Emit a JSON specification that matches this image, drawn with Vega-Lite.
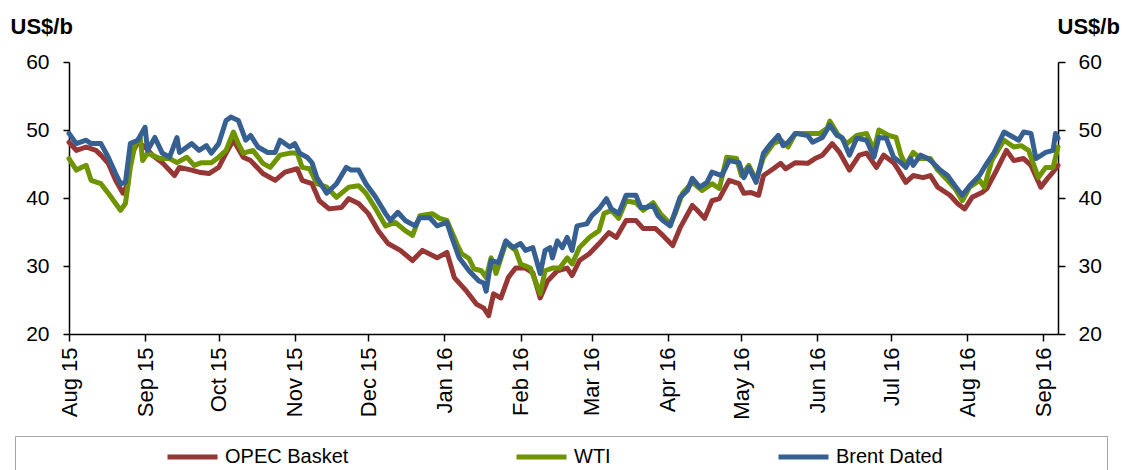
{
  "$schema": "https://vega.github.io/schema/vega-lite/v6.json",
  "width": 989,
  "height": 272,
  "autosize": {"type": "none"},
  "padding": {"left": 69, "top": 62, "right": 68, "bottom": 136},
  "background": "white",
  "config": {
    "font": "Liberation Sans",
    "view": {"stroke": null},
    "axis": {"domainColor": "black", "domainWidth": 1.5, "tickColor": "black", "tickWidth": 1.5, "labelColor": "black", "labelFontSize": 21, "grid": false, "titleColor": "black"}
  },
  "data": {"values": [
    {"date":"2015-08-01","series":"OPEC Basket","price":48.2},{"date":"2015-08-04","series":"OPEC Basket","price":47.0},{"date":"2015-08-08","series":"OPEC Basket","price":47.5},{"date":"2015-08-12","series":"OPEC Basket","price":47.0},{"date":"2015-08-14","series":"OPEC Basket","price":46.3},{"date":"2015-08-17","series":"OPEC Basket","price":45.1},{"date":"2015-08-20","series":"OPEC Basket","price":42.6},{"date":"2015-08-23","series":"OPEC Basket","price":40.7},{"date":"2015-08-25","series":"OPEC Basket","price":42.1},{"date":"2015-08-26","series":"OPEC Basket","price":46.0},{"date":"2015-08-29","series":"OPEC Basket","price":48.2},{"date":"2015-09-01","series":"OPEC Basket","price":47.5},{"date":"2015-09-04","series":"OPEC Basket","price":46.3},{"date":"2015-09-08","series":"OPEC Basket","price":45.2},{"date":"2015-09-13","series":"OPEC Basket","price":43.3},{"date":"2015-09-15","series":"OPEC Basket","price":44.5},{"date":"2015-09-20","series":"OPEC Basket","price":44.1},{"date":"2015-09-23","series":"OPEC Basket","price":43.8},{"date":"2015-09-27","series":"OPEC Basket","price":43.6},{"date":"2015-10-01","series":"OPEC Basket","price":44.5},{"date":"2015-10-04","series":"OPEC Basket","price":46.6},{"date":"2015-10-07","series":"OPEC Basket","price":48.5},{"date":"2015-10-11","series":"OPEC Basket","price":46.0},{"date":"2015-10-14","series":"OPEC Basket","price":45.5},{"date":"2015-10-19","series":"OPEC Basket","price":43.6},{"date":"2015-10-24","series":"OPEC Basket","price":42.6},{"date":"2015-10-28","series":"OPEC Basket","price":43.8},{"date":"2015-11-02","series":"OPEC Basket","price":44.3},{"date":"2015-11-04","series":"OPEC Basket","price":42.6},{"date":"2015-11-08","series":"OPEC Basket","price":42.1},{"date":"2015-11-11","series":"OPEC Basket","price":39.6},{"date":"2015-11-15","series":"OPEC Basket","price":38.4},{"date":"2015-11-20","series":"OPEC Basket","price":38.6},{"date":"2015-11-23","series":"OPEC Basket","price":39.9},{"date":"2015-11-27","series":"OPEC Basket","price":39.2},{"date":"2015-12-01","series":"OPEC Basket","price":37.7},{"date":"2015-12-05","series":"OPEC Basket","price":35.2},{"date":"2015-12-09","series":"OPEC Basket","price":33.3},{"date":"2015-12-14","series":"OPEC Basket","price":32.3},{"date":"2015-12-19","series":"OPEC Basket","price":30.8},{"date":"2015-12-23","series":"OPEC Basket","price":32.3},{"date":"2015-12-29","series":"OPEC Basket","price":31.2},{"date":"2016-01-02","series":"OPEC Basket","price":32.0},{"date":"2016-01-05","series":"OPEC Basket","price":28.3},{"date":"2016-01-10","series":"OPEC Basket","price":26.3},{"date":"2016-01-14","series":"OPEC Basket","price":24.4},{"date":"2016-01-17","series":"OPEC Basket","price":23.8},{"date":"2016-01-19","series":"OPEC Basket","price":22.7},{"date":"2016-01-21","series":"OPEC Basket","price":25.9},{"date":"2016-01-24","series":"OPEC Basket","price":25.3},{"date":"2016-01-27","series":"OPEC Basket","price":28.3},{"date":"2016-01-30","series":"OPEC Basket","price":29.7},{"date":"2016-02-03","series":"OPEC Basket","price":29.7},{"date":"2016-02-06","series":"OPEC Basket","price":29.0},{"date":"2016-02-09","series":"OPEC Basket","price":25.3},{"date":"2016-02-12","series":"OPEC Basket","price":27.8},{"date":"2016-02-16","series":"OPEC Basket","price":29.3},{"date":"2016-02-20","series":"OPEC Basket","price":29.7},{"date":"2016-02-22","series":"OPEC Basket","price":28.6},{"date":"2016-02-25","series":"OPEC Basket","price":30.8},{"date":"2016-02-29","series":"OPEC Basket","price":31.8},{"date":"2016-03-04","series":"OPEC Basket","price":33.3},{"date":"2016-03-08","series":"OPEC Basket","price":34.9},{"date":"2016-03-11","series":"OPEC Basket","price":34.2},{"date":"2016-03-15","series":"OPEC Basket","price":36.7},{"date":"2016-03-19","series":"OPEC Basket","price":36.7},{"date":"2016-03-22","series":"OPEC Basket","price":35.5},{"date":"2016-03-27","series":"OPEC Basket","price":35.5},{"date":"2016-03-30","series":"OPEC Basket","price":34.5},{"date":"2016-04-03","series":"OPEC Basket","price":33.0},{"date":"2016-04-06","series":"OPEC Basket","price":35.6},{"date":"2016-04-11","series":"OPEC Basket","price":38.9},{"date":"2016-04-13","series":"OPEC Basket","price":38.2},{"date":"2016-04-16","series":"OPEC Basket","price":37.0},{"date":"2016-04-19","series":"OPEC Basket","price":39.6},{"date":"2016-04-22","series":"OPEC Basket","price":39.9},{"date":"2016-04-26","series":"OPEC Basket","price":42.6},{"date":"2016-04-30","series":"OPEC Basket","price":42.1},{"date":"2016-05-02","series":"OPEC Basket","price":40.7},{"date":"2016-05-05","series":"OPEC Basket","price":40.8},{"date":"2016-05-08","series":"OPEC Basket","price":40.4},{"date":"2016-05-10","series":"OPEC Basket","price":43.3},{"date":"2016-05-14","series":"OPEC Basket","price":44.3},{"date":"2016-05-17","series":"OPEC Basket","price":45.1},{"date":"2016-05-19","series":"OPEC Basket","price":44.3},{"date":"2016-05-23","series":"OPEC Basket","price":45.2},{"date":"2016-05-28","series":"OPEC Basket","price":45.1},{"date":"2016-05-31","series":"OPEC Basket","price":45.8},{"date":"2016-06-03","series":"OPEC Basket","price":46.3},{"date":"2016-06-07","series":"OPEC Basket","price":48.0},{"date":"2016-06-10","series":"OPEC Basket","price":46.7},{"date":"2016-06-14","series":"OPEC Basket","price":44.1},{"date":"2016-06-18","series":"OPEC Basket","price":46.3},{"date":"2016-06-21","series":"OPEC Basket","price":46.6},{"date":"2016-06-25","series":"OPEC Basket","price":44.5},{"date":"2016-06-28","series":"OPEC Basket","price":46.3},{"date":"2016-07-02","series":"OPEC Basket","price":45.2},{"date":"2016-07-04","series":"OPEC Basket","price":44.1},{"date":"2016-07-07","series":"OPEC Basket","price":42.3},{"date":"2016-07-10","series":"OPEC Basket","price":43.3},{"date":"2016-07-14","series":"OPEC Basket","price":43.0},{"date":"2016-07-17","series":"OPEC Basket","price":43.3},{"date":"2016-07-20","series":"OPEC Basket","price":41.6},{"date":"2016-07-25","series":"OPEC Basket","price":40.4},{"date":"2016-07-28","series":"OPEC Basket","price":39.2},{"date":"2016-07-31","series":"OPEC Basket","price":38.4},{"date":"2016-08-03","series":"OPEC Basket","price":40.1},{"date":"2016-08-07","series":"OPEC Basket","price":40.8},{"date":"2016-08-09","series":"OPEC Basket","price":41.4},{"date":"2016-08-13","series":"OPEC Basket","price":44.1},{"date":"2016-08-17","series":"OPEC Basket","price":47.0},{"date":"2016-08-20","series":"OPEC Basket","price":45.5},{"date":"2016-08-24","series":"OPEC Basket","price":45.8},{"date":"2016-08-27","series":"OPEC Basket","price":44.8},{"date":"2016-08-31","series":"OPEC Basket","price":41.6},{"date":"2016-09-03","series":"OPEC Basket","price":43.0},{"date":"2016-09-05","series":"OPEC Basket","price":43.8},{"date":"2016-09-07","series":"OPEC Basket","price":44.8},
    {"date":"2015-08-01","series":"WTI","price":45.8},{"date":"2015-08-04","series":"WTI","price":44.1},{"date":"2015-08-08","series":"WTI","price":44.8},{"date":"2015-08-10","series":"WTI","price":42.6},{"date":"2015-08-14","series":"WTI","price":42.1},{"date":"2015-08-17","series":"WTI","price":40.7},{"date":"2015-08-20","series":"WTI","price":39.2},{"date":"2015-08-22","series":"WTI","price":38.2},{"date":"2015-08-24","series":"WTI","price":39.2},{"date":"2015-08-26","series":"WTI","price":44.5},{"date":"2015-08-28","series":"WTI","price":48.0},{"date":"2015-08-30","series":"WTI","price":48.9},{"date":"2015-08-31","series":"WTI","price":45.5},{"date":"2015-09-02","series":"WTI","price":46.6},{"date":"2015-09-07","series":"WTI","price":45.8},{"date":"2015-09-11","series":"WTI","price":45.8},{"date":"2015-09-14","series":"WTI","price":45.2},{"date":"2015-09-18","series":"WTI","price":46.0},{"date":"2015-09-21","series":"WTI","price":44.8},{"date":"2015-09-24","series":"WTI","price":45.2},{"date":"2015-09-28","series":"WTI","price":45.2},{"date":"2015-10-01","series":"WTI","price":46.0},{"date":"2015-10-04","series":"WTI","price":47.0},{"date":"2015-10-07","series":"WTI","price":49.7},{"date":"2015-10-09","series":"WTI","price":48.0},{"date":"2015-10-11","series":"WTI","price":46.6},{"date":"2015-10-15","series":"WTI","price":47.0},{"date":"2015-10-19","series":"WTI","price":45.1},{"date":"2015-10-22","series":"WTI","price":44.5},{"date":"2015-10-26","series":"WTI","price":46.3},{"date":"2015-10-30","series":"WTI","price":46.6},{"date":"2015-11-02","series":"WTI","price":46.6},{"date":"2015-11-04","series":"WTI","price":44.5},{"date":"2015-11-07","series":"WTI","price":44.3},{"date":"2015-11-10","series":"WTI","price":42.1},{"date":"2015-11-14","series":"WTI","price":41.6},{"date":"2015-11-18","series":"WTI","price":40.1},{"date":"2015-11-23","series":"WTI","price":41.6},{"date":"2015-11-27","series":"WTI","price":41.8},{"date":"2015-11-30","series":"WTI","price":40.7},{"date":"2015-12-04","series":"WTI","price":38.4},{"date":"2015-12-08","series":"WTI","price":35.9},{"date":"2015-12-12","series":"WTI","price":36.4},{"date":"2015-12-16","series":"WTI","price":35.2},{"date":"2015-12-19","series":"WTI","price":34.5},{"date":"2015-12-22","series":"WTI","price":37.4},{"date":"2015-12-27","series":"WTI","price":37.7},{"date":"2015-12-30","series":"WTI","price":37.0},{"date":"2016-01-02","series":"WTI","price":36.7},{"date":"2016-01-06","series":"WTI","price":33.3},{"date":"2016-01-08","series":"WTI","price":31.8},{"date":"2016-01-11","series":"WTI","price":31.1},{"date":"2016-01-13","series":"WTI","price":29.6},{"date":"2016-01-16","series":"WTI","price":29.3},{"date":"2016-01-18","series":"WTI","price":28.3},{"date":"2016-01-20","series":"WTI","price":31.2},{"date":"2016-01-22","series":"WTI","price":28.9},{"date":"2016-01-26","series":"WTI","price":33.4},{"date":"2016-01-30","series":"WTI","price":32.3},{"date":"2016-02-01","series":"WTI","price":30.3},{"date":"2016-02-05","series":"WTI","price":29.7},{"date":"2016-02-09","series":"WTI","price":25.9},{"date":"2016-02-11","series":"WTI","price":29.3},{"date":"2016-02-14","series":"WTI","price":29.7},{"date":"2016-02-17","series":"WTI","price":29.7},{"date":"2016-02-20","series":"WTI","price":31.2},{"date":"2016-02-22","series":"WTI","price":30.3},{"date":"2016-02-25","series":"WTI","price":32.7},{"date":"2016-02-29","series":"WTI","price":34.2},{"date":"2016-03-04","series":"WTI","price":35.2},{"date":"2016-03-06","series":"WTI","price":37.7},{"date":"2016-03-09","series":"WTI","price":38.2},{"date":"2016-03-12","series":"WTI","price":37.0},{"date":"2016-03-15","series":"WTI","price":39.6},{"date":"2016-03-19","series":"WTI","price":39.3},{"date":"2016-03-22","series":"WTI","price":38.2},{"date":"2016-03-26","series":"WTI","price":39.3},{"date":"2016-03-29","series":"WTI","price":37.7},{"date":"2016-04-02","series":"WTI","price":36.2},{"date":"2016-04-04","series":"WTI","price":37.7},{"date":"2016-04-07","series":"WTI","price":40.7},{"date":"2016-04-11","series":"WTI","price":42.3},{"date":"2016-04-15","series":"WTI","price":41.1},{"date":"2016-04-19","series":"WTI","price":42.1},{"date":"2016-04-22","series":"WTI","price":41.4},{"date":"2016-04-25","series":"WTI","price":46.0},{"date":"2016-04-29","series":"WTI","price":45.8},{"date":"2016-05-01","series":"WTI","price":43.3},{"date":"2016-05-04","series":"WTI","price":44.8},{"date":"2016-05-07","series":"WTI","price":42.6},{"date":"2016-05-10","series":"WTI","price":46.0},{"date":"2016-05-14","series":"WTI","price":48.0},{"date":"2016-05-17","series":"WTI","price":48.5},{"date":"2016-05-20","series":"WTI","price":47.5},{"date":"2016-05-23","series":"WTI","price":49.5},{"date":"2016-05-29","series":"WTI","price":49.5},{"date":"2016-06-02","series":"WTI","price":49.5},{"date":"2016-06-05","series":"WTI","price":50.3},{"date":"2016-06-06","series":"WTI","price":51.3},{"date":"2016-06-09","series":"WTI","price":49.5},{"date":"2016-06-13","series":"WTI","price":48.0},{"date":"2016-06-17","series":"WTI","price":49.2},{"date":"2016-06-21","series":"WTI","price":49.5},{"date":"2016-06-24","series":"WTI","price":47.0},{"date":"2016-06-26","series":"WTI","price":50.0},{"date":"2016-06-30","series":"WTI","price":49.2},{"date":"2016-07-03","series":"WTI","price":48.9},{"date":"2016-07-05","series":"WTI","price":46.3},{"date":"2016-07-07","series":"WTI","price":44.8},{"date":"2016-07-10","series":"WTI","price":46.7},{"date":"2016-07-13","series":"WTI","price":45.8},{"date":"2016-07-17","series":"WTI","price":45.8},{"date":"2016-07-20","series":"WTI","price":44.1},{"date":"2016-07-24","series":"WTI","price":42.6},{"date":"2016-07-27","series":"WTI","price":41.4},{"date":"2016-07-30","series":"WTI","price":39.6},{"date":"2016-08-02","series":"WTI","price":41.6},{"date":"2016-08-06","series":"WTI","price":42.6},{"date":"2016-08-08","series":"WTI","price":41.6},{"date":"2016-08-11","series":"WTI","price":45.5},{"date":"2016-08-16","series":"WTI","price":48.5},{"date":"2016-08-20","series":"WTI","price":47.5},{"date":"2016-08-23","series":"WTI","price":47.7},{"date":"2016-08-26","series":"WTI","price":47.0},{"date":"2016-08-30","series":"WTI","price":43.0},{"date":"2016-09-02","series":"WTI","price":44.5},{"date":"2016-09-05","series":"WTI","price":44.5},{"date":"2016-09-07","series":"WTI","price":47.5},
    {"date":"2015-08-01","series":"Brent Dated","price":49.5},{"date":"2015-08-04","series":"Brent Dated","price":48.0},{"date":"2015-08-08","series":"Brent Dated","price":48.5},{"date":"2015-08-10","series":"Brent Dated","price":48.0},{"date":"2015-08-14","series":"Brent Dated","price":48.0},{"date":"2015-08-17","series":"Brent Dated","price":46.0},{"date":"2015-08-20","series":"Brent Dated","price":43.6},{"date":"2015-08-22","series":"Brent Dated","price":42.1},{"date":"2015-08-24","series":"Brent Dated","price":42.3},{"date":"2015-08-26","series":"Brent Dated","price":48.0},{"date":"2015-08-29","series":"Brent Dated","price":48.5},{"date":"2015-09-01","series":"Brent Dated","price":50.4},{"date":"2015-09-02","series":"Brent Dated","price":47.0},{"date":"2015-09-05","series":"Brent Dated","price":48.9},{"date":"2015-09-08","series":"Brent Dated","price":46.6},{"date":"2015-09-11","series":"Brent Dated","price":46.0},{"date":"2015-09-14","series":"Brent Dated","price":48.9},{"date":"2015-09-15","series":"Brent Dated","price":46.7},{"date":"2015-09-20","series":"Brent Dated","price":48.0},{"date":"2015-09-23","series":"Brent Dated","price":47.0},{"date":"2015-09-26","series":"Brent Dated","price":47.7},{"date":"2015-09-28","series":"Brent Dated","price":46.6},{"date":"2015-10-01","series":"Brent Dated","price":48.0},{"date":"2015-10-04","series":"Brent Dated","price":51.4},{"date":"2015-10-06","series":"Brent Dated","price":51.9},{"date":"2015-10-09","series":"Brent Dated","price":51.4},{"date":"2015-10-12","series":"Brent Dated","price":48.5},{"date":"2015-10-14","series":"Brent Dated","price":49.2},{"date":"2015-10-17","series":"Brent Dated","price":47.5},{"date":"2015-10-21","series":"Brent Dated","price":46.7},{"date":"2015-10-24","series":"Brent Dated","price":46.7},{"date":"2015-10-26","series":"Brent Dated","price":48.5},{"date":"2015-10-30","series":"Brent Dated","price":47.5},{"date":"2015-11-01","series":"Brent Dated","price":48.0},{"date":"2015-11-03","series":"Brent Dated","price":46.6},{"date":"2015-11-06","series":"Brent Dated","price":46.0},{"date":"2015-11-08","series":"Brent Dated","price":45.2},{"date":"2015-11-10","series":"Brent Dated","price":43.0},{"date":"2015-11-14","series":"Brent Dated","price":40.7},{"date":"2015-11-18","series":"Brent Dated","price":42.1},{"date":"2015-11-22","series":"Brent Dated","price":44.5},{"date":"2015-11-24","series":"Brent Dated","price":44.1},{"date":"2015-11-27","series":"Brent Dated","price":44.1},{"date":"2015-11-30","series":"Brent Dated","price":42.1},{"date":"2015-12-04","series":"Brent Dated","price":40.1},{"date":"2015-12-08","series":"Brent Dated","price":37.7},{"date":"2015-12-10","series":"Brent Dated","price":36.7},{"date":"2015-12-13","series":"Brent Dated","price":37.9},{"date":"2015-12-16","series":"Brent Dated","price":36.7},{"date":"2015-12-20","series":"Brent Dated","price":35.9},{"date":"2015-12-22","series":"Brent Dated","price":37.1},{"date":"2015-12-26","series":"Brent Dated","price":37.1},{"date":"2015-12-29","series":"Brent Dated","price":35.9},{"date":"2016-01-02","series":"Brent Dated","price":36.4},{"date":"2016-01-04","series":"Brent Dated","price":34.2},{"date":"2016-01-07","series":"Brent Dated","price":31.2},{"date":"2016-01-11","series":"Brent Dated","price":29.3},{"date":"2016-01-15","series":"Brent Dated","price":27.8},{"date":"2016-01-17","series":"Brent Dated","price":27.5},{"date":"2016-01-18","series":"Brent Dated","price":26.3},{"date":"2016-01-20","series":"Brent Dated","price":30.8},{"date":"2016-01-23","series":"Brent Dated","price":30.5},{"date":"2016-01-26","series":"Brent Dated","price":33.7},{"date":"2016-01-29","series":"Brent Dated","price":32.7},{"date":"2016-02-01","series":"Brent Dated","price":33.3},{"date":"2016-02-03","series":"Brent Dated","price":32.3},{"date":"2016-02-06","series":"Brent Dated","price":32.7},{"date":"2016-02-09","series":"Brent Dated","price":28.9},{"date":"2016-02-11","series":"Brent Dated","price":32.3},{"date":"2016-02-13","series":"Brent Dated","price":32.7},{"date":"2016-02-14","series":"Brent Dated","price":31.2},{"date":"2016-02-16","series":"Brent Dated","price":33.7},{"date":"2016-02-18","series":"Brent Dated","price":32.7},{"date":"2016-02-20","series":"Brent Dated","price":34.2},{"date":"2016-02-22","series":"Brent Dated","price":32.3},{"date":"2016-02-24","series":"Brent Dated","price":35.9},{"date":"2016-02-28","series":"Brent Dated","price":36.2},{"date":"2016-03-01","series":"Brent Dated","price":37.4},{"date":"2016-03-04","series":"Brent Dated","price":38.4},{"date":"2016-03-07","series":"Brent Dated","price":39.9},{"date":"2016-03-09","series":"Brent Dated","price":38.4},{"date":"2016-03-12","series":"Brent Dated","price":37.7},{"date":"2016-03-15","series":"Brent Dated","price":40.4},{"date":"2016-03-19","series":"Brent Dated","price":40.4},{"date":"2016-03-21","series":"Brent Dated","price":38.6},{"date":"2016-03-23","series":"Brent Dated","price":38.6},{"date":"2016-03-26","series":"Brent Dated","price":38.9},{"date":"2016-03-28","series":"Brent Dated","price":37.4},{"date":"2016-03-30","series":"Brent Dated","price":36.7},{"date":"2016-04-02","series":"Brent Dated","price":35.9},{"date":"2016-04-06","series":"Brent Dated","price":40.1},{"date":"2016-04-09","series":"Brent Dated","price":41.1},{"date":"2016-04-11","series":"Brent Dated","price":42.9},{"date":"2016-04-14","series":"Brent Dated","price":41.6},{"date":"2016-04-17","series":"Brent Dated","price":42.3},{"date":"2016-04-19","series":"Brent Dated","price":43.8},{"date":"2016-04-23","series":"Brent Dated","price":43.3},{"date":"2016-04-26","series":"Brent Dated","price":45.5},{"date":"2016-04-30","series":"Brent Dated","price":45.2},{"date":"2016-05-02","series":"Brent Dated","price":43.0},{"date":"2016-05-04","series":"Brent Dated","price":44.5},{"date":"2016-05-07","series":"Brent Dated","price":42.3},{"date":"2016-05-10","series":"Brent Dated","price":46.6},{"date":"2016-05-13","series":"Brent Dated","price":48.0},{"date":"2016-05-16","series":"Brent Dated","price":49.2},{"date":"2016-05-18","series":"Brent Dated","price":47.7},{"date":"2016-05-20","series":"Brent Dated","price":48.2},{"date":"2016-05-23","series":"Brent Dated","price":49.5},{"date":"2016-05-28","series":"Brent Dated","price":49.2},{"date":"2016-05-30","series":"Brent Dated","price":48.2},{"date":"2016-06-03","series":"Brent Dated","price":48.9},{"date":"2016-06-06","series":"Brent Dated","price":50.7},{"date":"2016-06-09","series":"Brent Dated","price":49.2},{"date":"2016-06-11","series":"Brent Dated","price":48.9},{"date":"2016-06-14","series":"Brent Dated","price":46.3},{"date":"2016-06-17","series":"Brent Dated","price":48.8},{"date":"2016-06-21","series":"Brent Dated","price":48.5},{"date":"2016-06-24","series":"Brent Dated","price":46.0},{"date":"2016-06-26","series":"Brent Dated","price":48.9},{"date":"2016-06-29","series":"Brent Dated","price":48.8},{"date":"2016-07-02","series":"Brent Dated","price":46.0},{"date":"2016-07-05","series":"Brent Dated","price":45.2},{"date":"2016-07-07","series":"Brent Dated","price":44.5},{"date":"2016-07-09","series":"Brent Dated","price":45.8},{"date":"2016-07-10","series":"Brent Dated","price":44.8},{"date":"2016-07-13","series":"Brent Dated","price":46.3},{"date":"2016-07-16","series":"Brent Dated","price":45.8},{"date":"2016-07-18","series":"Brent Dated","price":45.2},{"date":"2016-07-21","series":"Brent Dated","price":44.1},{"date":"2016-07-24","series":"Brent Dated","price":43.3},{"date":"2016-07-27","series":"Brent Dated","price":41.8},{"date":"2016-07-30","series":"Brent Dated","price":40.4},{"date":"2016-08-02","series":"Brent Dated","price":41.8},{"date":"2016-08-06","series":"Brent Dated","price":43.3},{"date":"2016-08-09","series":"Brent Dated","price":45.1},{"date":"2016-08-12","series":"Brent Dated","price":46.7},{"date":"2016-08-16","series":"Brent Dated","price":49.7},{"date":"2016-08-20","series":"Brent Dated","price":48.9},{"date":"2016-08-22","series":"Brent Dated","price":48.5},{"date":"2016-08-24","series":"Brent Dated","price":49.7},{"date":"2016-08-27","series":"Brent Dated","price":49.5},{"date":"2016-08-29","series":"Brent Dated","price":45.8},{"date":"2016-09-02","series":"Brent Dated","price":46.7},{"date":"2016-09-05","series":"Brent Dated","price":47.0},{"date":"2016-09-06","series":"Brent Dated","price":49.5},{"date":"2016-09-07","series":"Brent Dated","price":48.8}
  ]},
  "layer": [
    {
      "mark": {"type": "line", "strokeWidth": 5, "strokeJoin": "round", "strokeCap": "round"},
      "encoding": {
        "x": {
          "field": "date", "type": "temporal",
          "scale": {"type": "utc", "domain": [{"year": 2015, "month": 8, "date": 1, "utc": true}, {"year": 2016, "month": 9, "date": 7, "utc": true}]},
          "axis": {
            "title": null, "format": "%b %y", "labelAngle": -90, "tickSize": 7, "labelPadding": 6, "labelFontSize": 22, "labelOverlap": false, "labelFlush": false,
            "values": [
              {"year": 2015, "month": 8, "date": 1, "utc": true}, {"year": 2015, "month": 9, "date": 1, "utc": true}, {"year": 2015, "month": 10, "date": 1, "utc": true}, {"year": 2015, "month": 11, "date": 1, "utc": true}, {"year": 2015, "month": 12, "date": 1, "utc": true},
              {"year": 2016, "month": 1, "date": 1, "utc": true}, {"year": 2016, "month": 2, "date": 1, "utc": true}, {"year": 2016, "month": 3, "date": 1, "utc": true}, {"year": 2016, "month": 4, "date": 1, "utc": true}, {"year": 2016, "month": 5, "date": 1, "utc": true},
              {"year": 2016, "month": 6, "date": 1, "utc": true}, {"year": 2016, "month": 7, "date": 1, "utc": true}, {"year": 2016, "month": 8, "date": 1, "utc": true}, {"year": 2016, "month": 9, "date": 1, "utc": true}
            ]
          }
        },
        "y": {
          "field": "price", "type": "quantitative",
          "scale": {"domain": [20, 60], "nice": false, "zero": false},
          "axis": {"orient": "left", "values": [20, 30, 40, 50, 60], "tickSize": 6, "labelPadding": 14, "title": "US$/b", "titleAngle": 0, "titleAlign": "left", "titleBaseline": "alphabetic", "titleX": -59, "titleY": -29, "titleFontSize": 22, "titleFontWeight": "bold"}
        },
        "color": {
          "field": "series", "type": "nominal",
          "scale": {"domain": ["OPEC Basket", "WTI", "Brent Dated"], "range": ["#963735", "#6E9400", "#366092"]},
          "legend": {"orient": "none", "legendX": -54, "legendY": 374, "direction": "horizontal", "columns": 3, "title": " ", "titleOrient": "right", "titlePadding": 154, "symbolType": "stroke", "symbolSize": 2500, "symbolStrokeWidth": 5, "clipHeight": 22, "labelFontSize": 20, "labelColor": "black", "strokeColor": "#a6a6a6", "padding": 10, "symbolOffset": 140, "labelOffset": 5, "columnPadding": 25}
        }
      }
    },
    {
      "mark": {"type": "line", "opacity": 0},
      "encoding": {
        "x": {"field": "date", "type": "temporal"},
        "y": {
          "field": "price", "type": "quantitative",
          "scale": {"domain": [20, 60], "nice": false, "zero": false},
          "axis": {"orient": "right", "values": [20, 30, 40, 50, 60], "tickSize": 7, "labelPadding": 13, "title": "US$/b", "titleAngle": 0, "titleAlign": "left", "titleBaseline": "alphabetic", "titleX": -1, "titleY": -29, "titleFontSize": 22, "titleFontWeight": "bold"}
        }
      }
    }
  ],
  "resolve": {"scale": {"y": "independent"}}
}
